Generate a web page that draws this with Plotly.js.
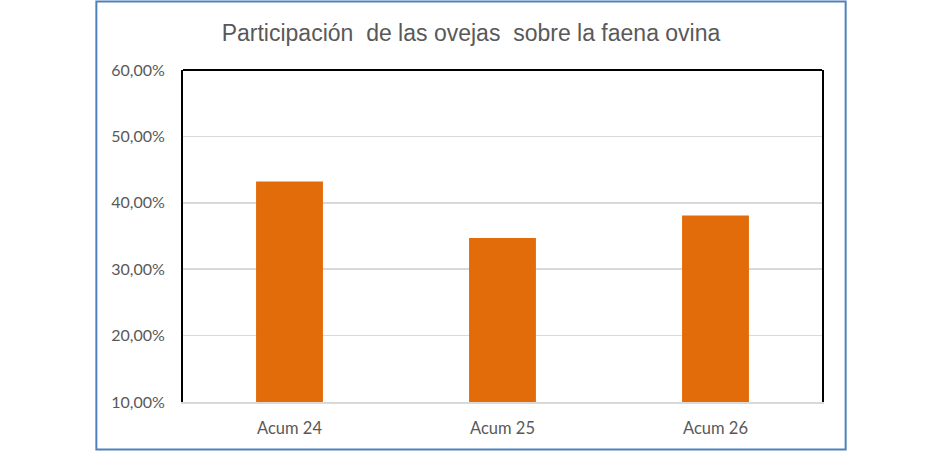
<!DOCTYPE html>
<html>
<head>
<meta charset="utf-8">
<script src="https://cdn.plot.ly/plotly-3.0.1.min.js"></script>
<style>
  html, body { margin: 0; padding: 0; background: #fff; }
  #chart { width: 942px; height: 452px; }
</style>
</head>
<body>
<div id="chart"></div>
<script>
const categories = ['Acum 24', 'Acum 25', 'Acum 26'];
const participacion = [43.2, 34.7, 38.1];
const tickVals = [10, 20, 30, 40, 50, 60];
const tickText = ['10,00%', '20,00%', '30,00%', '40,00%', '50,00%', '60,00%'];

const el = document.getElementById('chart');

const trace = {
  x: categories,
  y: participacion,
  type: 'bar',
  marker: { color: '#e36c0a' },
  hoverinfo: 'skip',
  showlegend: false
};

const layout = {
  width: 942,
  height: 452,
  margin: { l: 183, r: 120, t: 70, b: 50 },
  paper_bgcolor: '#fff',
  plot_bgcolor: '#fff',
  bargap: 0.686,
  title: {
    text: 'Participación  de las ovejas  sobre la faena ovina',
    font: { family: 'Liberation Sans Narrow, Arial Narrow, Liberation Sans, sans-serif', size: 23, color: '#595959' },
    xref: 'container', x: 0.5, xanchor: 'center',
    yref: 'container', y: 0.927, yanchor: 'middle'
  },
  font: { family: 'Lato, Carlito, Calibri, sans-serif', size: 16, color: '#595959' },
  xaxis: {
    type: 'category',
    showgrid: false,
    showline: true,
    linecolor: '#d9d9d9',
    linewidth: 2,
    ticks: '',
    ticklabelstandoff: 10,
    tickfont: { size: 16.5, color: '#595959' }
  },
  yaxis: {
    range: [10, 60],
    tickvals: tickVals,
    ticktext: tickText,
    showgrid: true,
    gridcolor: '#d9d9d9',
    gridwidth: 1.5,
    zeroline: false,
    showline: true,
    mirror: true,
    linecolor: '#000',
    linewidth: 2,
    ticks: '',
    ticklabelstandoff: 13,
    tickfont: { size: 16, color: '#595959' }
  },
  shapes: [
    // black top edge of the plot frame
    { type: 'line', xref: 'paper', yref: 'paper', x0: 0, x1: 1, y0: 1, y1: 1,
      line: { color: '#000', width: 2 }, layer: 'above' },
    // blue outer border of the chart
    { type: 'rect', xref: 'paper', yref: 'paper', x0: -0.1356, x1: 1.037, y0: -0.143, y1: 1.206,
      line: { color: '#4f81bd', width: 2 }, fillcolor: 'rgba(0,0,0,0)', layer: 'below' }
  ]
};

Plotly.newPlot(el, [trace], layout, { displayModeBar: false, staticPlot: true });
</script>
</body>
</html>
